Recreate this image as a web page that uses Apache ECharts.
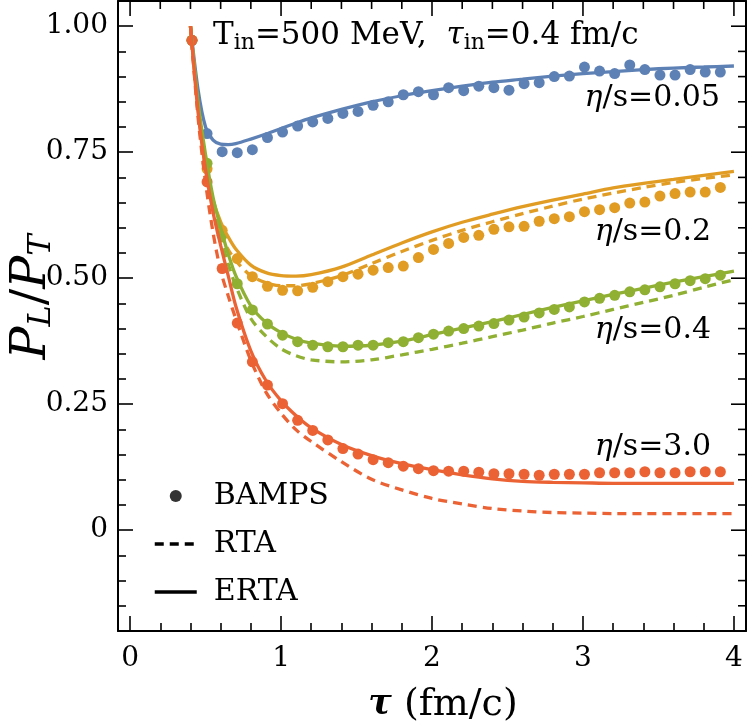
<!DOCTYPE html>
<html>
<head>
<meta charset="utf-8">
<script src="https://cdn.jsdelivr.net/npm/echarts@6/dist/echarts.min.js"></script>
<style>
  html, body { margin: 0; padding: 0; background: #fff; }
  #main { width: 749px; height: 721px; }
</style>
</head>
<body>
<div id="main"></div>
<script>
const FONT = 'DejaVu Serif'

// axis ticks
const xMajor = [0, 1, 2, 3, 4]
const xMinor = [0.2, 0.4, 0.6, 0.8, 1.2, 1.4, 1.6, 1.8, 2.2, 2.4, 2.6, 2.8, 3.2, 3.4, 3.6, 3.8]
const xTickLabels = ['0', '1', '2', '3', '4']
const yMajor = [0, 0.25, 0.5, 0.75, 1]
const yMinor = [-0.15, -0.1, -0.05, 0.05, 0.1, 0.15, 0.2, 0.3, 0.35, 0.4, 0.45, 0.55, 0.6, 0.65, 0.7, 0.8, 0.85, 0.9, 0.95]
const yTickLabels = ['0', '0.25', '0.50', '0.75', '1.00']

// tau grid of the RTA / ERTA curves
const tauLine = [0.4, 0.45, 0.5, 0.55, 0.6, 0.65, 0.7, 0.8, 0.9, 1.0, 1.1, 1.2, 1.4, 1.6, 1.8, 2.0, 2.2, 2.4, 2.6, 2.8, 3.0, 3.2, 3.4, 3.6, 3.8, 4.0]

const ertaEta005 = [1.0, 0.875, 0.8, 0.774, 0.766, 0.765, 0.767, 0.776, 0.786, 0.797, 0.808, 0.818, 0.835, 0.85, 0.862, 0.872, 0.881, 0.889, 0.895, 0.901, 0.906, 0.91, 0.914, 0.917, 0.919, 0.921]
const ertaEta02 = [1.0, 0.84, 0.72, 0.655, 0.612, 0.582, 0.558, 0.526, 0.511, 0.505, 0.504, 0.507, 0.522, 0.546, 0.57, 0.592, 0.611, 0.627, 0.642, 0.655, 0.667, 0.679, 0.688, 0.696, 0.704, 0.712]
const rtaEta02 = [1.0, 0.83, 0.705, 0.635, 0.588, 0.557, 0.535, 0.505, 0.491, 0.485, 0.485, 0.489, 0.505, 0.529, 0.553, 0.575, 0.595, 0.612, 0.628, 0.643, 0.657, 0.669, 0.68, 0.69, 0.698, 0.705]
const ertaEta04 = [1.0, 0.85, 0.745, 0.66, 0.6, 0.548, 0.505, 0.445, 0.412, 0.392, 0.379, 0.371, 0.365, 0.367, 0.375, 0.388, 0.401, 0.414, 0.428, 0.442, 0.455, 0.468, 0.48, 0.492, 0.503, 0.514]
const rtaEta04 = [1.0, 0.84, 0.725, 0.64, 0.58, 0.528, 0.485, 0.42, 0.385, 0.36, 0.346, 0.338, 0.334, 0.338, 0.348, 0.359, 0.371, 0.384, 0.397, 0.411, 0.424, 0.438, 0.452, 0.466, 0.482, 0.497]
const ertaEta30 = [1.0, 0.83, 0.715, 0.63, 0.565, 0.505, 0.445, 0.356, 0.297, 0.257, 0.227, 0.203, 0.17, 0.148, 0.132, 0.12, 0.11, 0.102, 0.097, 0.095, 0.094, 0.093, 0.093, 0.093, 0.093, 0.093]
const rtaEta30 = [1.0, 0.82, 0.69, 0.59, 0.515, 0.465, 0.42, 0.337, 0.274, 0.232, 0.199, 0.176, 0.136, 0.101, 0.08, 0.063, 0.052, 0.043, 0.038, 0.035, 0.034, 0.033, 0.033, 0.033, 0.033, 0.033]

// BAMPS points
const tauDots = [0.41, 0.51, 0.61, 0.71, 0.81, 0.91, 1.01, 1.11, 1.21, 1.31, 1.41, 1.51, 1.61, 1.71, 1.81, 1.91, 2.01, 2.11, 2.21, 2.31, 2.41, 2.51, 2.61, 2.71, 2.81, 2.91, 3.01, 3.11, 3.21, 3.31, 3.41, 3.51, 3.61, 3.71, 3.81, 3.91]
const bampsEta005 = [0.972, 0.787, 0.751, 0.749, 0.755, 0.779, 0.79, 0.802, 0.81, 0.817, 0.827, 0.831, 0.843, 0.85, 0.864, 0.87, 0.864, 0.878, 0.872, 0.881, 0.878, 0.873, 0.886, 0.888, 0.9, 0.901, 0.919, 0.911, 0.906, 0.923, 0.914, 0.903, 0.903, 0.914, 0.909, 0.909]
const bampsEta02 = [0.972, 0.717, 0.595, 0.539, 0.503, 0.484, 0.476, 0.475, 0.482, 0.493, 0.503, 0.508, 0.516, 0.521, 0.524, 0.541, 0.557, 0.569, 0.581, 0.585, 0.597, 0.602, 0.603, 0.613, 0.618, 0.622, 0.632, 0.636, 0.64, 0.649, 0.651, 0.663, 0.668, 0.671, 0.671, 0.68]
const bampsEta04 = [0.972, 0.728, 0.585, 0.489, 0.437, 0.409, 0.387, 0.374, 0.367, 0.364, 0.364, 0.367, 0.367, 0.372, 0.374, 0.382, 0.389, 0.395, 0.4, 0.405, 0.41, 0.417, 0.423, 0.431, 0.438, 0.443, 0.453, 0.46, 0.466, 0.473, 0.477, 0.483, 0.489, 0.495, 0.499, 0.506]
const bampsEta30 = [0.972, 0.691, 0.519, 0.411, 0.334, 0.288, 0.251, 0.218, 0.198, 0.179, 0.162, 0.151, 0.14, 0.134, 0.127, 0.122, 0.118, 0.117, 0.117, 0.115, 0.112, 0.112, 0.111, 0.109, 0.111, 0.111, 0.111, 0.114, 0.114, 0.114, 0.116, 0.114, 0.114, 0.116, 0.116, 0.116]

const colors = { c005: '#5E81B5', c02: '#E19C24', c04: '#8FB032', c30: '#EB6235' }

const X_MIN = -0.08
const X_MAX = 4.08
const Y_MIN = -0.2
const Y_MAX = 1.05

const pairs = (xs, ys) => xs.map((x, i) => [x, ys[i]])

const lineSeries = (name, xs, ys, color, dashed) => ({
  name: name,
  type: 'line',
  data: pairs(xs, ys),
  symbol: 'none',
  smooth: 0.3,
  silent: true,
  lineStyle: { color: color, width: 3.3, type: dashed ? [9, 6] : 'solid' }
})

const dotSeries = (name, xs, ys, color) => ({
  name: name,
  type: 'scatter',
  data: pairs(xs, ys),
  symbol: 'circle',
  symbolSize: 11,
  silent: true,
  itemStyle: { color: color, opacity: 1 }
})

// ticks of the top and right frame edges: [value, kind]
// kind 0/1 = top major/minor at tau = value, kind 2/3 = right major/minor at P_L/P_T = value
const frameTicks = [
  ...xMajor.map((v) => [v, 0]),
  ...xMinor.map((v) => [v, 1]),
  ...yMajor.map((v) => [v, 2]),
  ...yMinor.map((v) => [v, 3])
]

const renderFrameTick = (params, api) => {
  const v = api.value(0)
  const kind = api.value(1)
  const len = kind % 2 === 0 ? 15 : 8
  const style = { stroke: '#000', lineWidth: 1.6 }
  if (kind < 2) {
    const p = api.coord([v, Y_MAX])
    return { type: 'line', shape: { x1: p[0], y1: p[1], x2: p[0], y2: p[1] + len }, style: style }
  }
  const p = api.coord([X_MAX, v])
  return { type: 'line', shape: { x1: p[0], y1: p[1], x2: p[0] - len, y2: p[1] }, style: style }
}

const chart = echarts.init(document.getElementById('main'), null, { renderer: 'canvas' })

const baseX = { type: 'value', min: X_MIN, max: X_MAX, splitLine: { show: false }, axisLabel: { show: false } }
const baseY = { type: 'value', min: Y_MIN, max: Y_MAX, splitLine: { show: false }, axisLabel: { show: false } }
const tickLine = { color: '#000', width: 1.6 }
const frameLine = { show: true, onZero: false, lineStyle: { color: '#000', width: 2 } }
const noLine = { show: false, onZero: false }
const richLabel = (size) => ({
  i: { fontFamily: FONT, fontSize: size, fontStyle: 'italic', fill: '#000' },
  n: { fontFamily: FONT, fontSize: size, fill: '#000' }
})

const option = {
  backgroundColor: '#fff',
  animation: false,
  grid: { left: 118, right: 3, top: 1, bottom: 90, containLabel: false, outerBoundsMode: 'none' },
  xAxis: [
    {
      ...baseX,
      position: 'bottom',
      axisLine: frameLine,
      axisTick: { inside: true, length: 15, customValues: xMajor, lineStyle: tickLine },
      axisLabel: {
        show: true,
        customValues: xMajor,
        formatter: (v) => xTickLabels[xMajor.indexOf(Math.round(v * 100) / 100)] || '',
        margin: 14, color: '#000', fontFamily: FONT, fontSize: 28
      },
      name: '{t|τ}{n| (fm/c)}',
      nameLocation: 'middle',
      nameGap: 55,
      nameTextStyle: {
        padding: [0, 0, 0, 22],
        rich: {
          t: { fontFamily: FONT, fontSize: 35, fontStyle: 'italic', fontWeight: 'bold', color: '#000' },
          n: { fontFamily: FONT, fontSize: 38, color: '#000' }
        }
      }
    },
    { ...baseX, position: 'bottom', axisLine: noLine, axisTick: { inside: true, length: 8, customValues: xMinor, lineStyle: tickLine } },
    { ...baseX, position: 'top', axisLine: frameLine, axisTick: { show: false } }
  ],
  yAxis: [
    {
      ...baseY,
      position: 'left',
      axisLine: frameLine,
      axisTick: { inside: true, length: 15, customValues: yMajor, lineStyle: tickLine },
      axisLabel: {
        show: true,
        customValues: yMajor,
        formatter: (v) => yTickLabels[yMajor.indexOf(Math.round(v * 100) / 100)] || '',
        margin: 10, color: '#000', fontFamily: FONT, fontSize: 28
      }
    },
    { ...baseY, position: 'left', axisLine: noLine, axisTick: { inside: true, length: 8, customValues: yMinor, lineStyle: tickLine } },
    { ...baseY, position: 'right', axisLine: frameLine, axisTick: { show: false } }
  ],
  legend: {
    orient: 'vertical',
    left: 148,
    top: 476,
    itemWidth: 42,
    itemHeight: 12,
    itemGap: 18,
    selectedMode: false,
    textStyle: { fontFamily: FONT, fontSize: 30, color: '#000', lineHeight: 30, padding: [0, 0, 0, 12] },
    data: [
      { name: 'BAMPS', icon: 'circle' },
      { name: 'RTA', itemStyle: { opacity: 0 }, lineStyle: { width: 3.5 } },
      { name: 'ERTA', itemStyle: { opacity: 0 }, lineStyle: { width: 3.5 } }
    ]
  },
  graphic: [
    {
      type: 'text', x: 32, y: 297, rotation: Math.PI / 2,
      style: {
        text: '{i|P}{s|L}{n|/}{i|P}{s|T}',
        align: 'center',
        verticalAlign: 'middle',
        rich: {
          i: { fontFamily: FONT, fontSize: 49, fontStyle: 'italic', fill: '#000', lineHeight: 52 },
          n: { fontFamily: FONT, fontSize: 49, fill: '#000', lineHeight: 52 },
          s: { fontFamily: FONT, fontSize: 32, fontStyle: 'italic', fill: '#000', lineHeight: 32, padding: [20, 0, 0, 0] }
        }
      }
    },
    {
      type: 'text', left: 213, top: 17,
      style: {
        text: '{n|T}{s|in}{n|=500 MeV,  }{i|τ}{s|in}{n|=0.4 fm/c}',
        rich: {
          n: { fontFamily: FONT, fontSize: 31, fill: '#000', lineHeight: 36 },
          i: { fontFamily: FONT, fontSize: 31, fontStyle: 'italic', fill: '#000', lineHeight: 36 },
          s: { fontFamily: FONT, fontSize: 22, fill: '#000', lineHeight: 22, padding: [15, 0, 0, 0] }
        }
      }
    },
    { type: 'text', right: 29, top: 83, style: { text: '{i|η}{n|/s=0.05}', rich: richLabel(30) } },
    { type: 'text', right: 38, top: 217, style: { text: '{i|η}{n|/s=0.2}', rich: richLabel(30) } },
    { type: 'text', right: 38, top: 315, style: { text: '{i|η}{n|/s=0.4}', rich: richLabel(30) } },
    { type: 'text', right: 38, top: 432, style: { text: '{i|η}{n|/s=3.0}', rich: richLabel(30) } }
  ],
  series: [
    // legend-only entries
    { name: 'BAMPS', type: 'scatter', data: [], itemStyle: { color: '#000' } },
    { name: 'RTA', type: 'line', data: [], symbol: 'none', itemStyle: { color: '#000' }, lineStyle: { color: '#000', width: 3.5, type: [9, 6] } },
    { name: 'ERTA', type: 'line', data: [], symbol: 'none', itemStyle: { color: '#000' }, lineStyle: { color: '#000', width: 3.5 } },

    // top / right frame ticks
    { name: 'frameTicks', type: 'custom', data: frameTicks, renderItem: renderFrameTick, clip: false, silent: true, z: 1 },

    lineSeries('ERTA 0.05', tauLine, ertaEta005, colors.c005, false),
    dotSeries('BAMPS 0.05', tauDots, bampsEta005, colors.c005),

    lineSeries('RTA 0.2', tauLine, rtaEta02, colors.c02, true),
    lineSeries('ERTA 0.2', tauLine, ertaEta02, colors.c02, false),
    dotSeries('BAMPS 0.2', tauDots, bampsEta02, colors.c02),

    lineSeries('RTA 0.4', tauLine, rtaEta04, colors.c04, true),
    lineSeries('ERTA 0.4', tauLine, ertaEta04, colors.c04, false),
    dotSeries('BAMPS 0.4', tauDots, bampsEta04, colors.c04),

    lineSeries('RTA 3.0', tauLine, rtaEta30, colors.c30, true),
    lineSeries('ERTA 3.0', tauLine, ertaEta30, colors.c30, false),
    dotSeries('BAMPS 3.0', tauDots, bampsEta30, colors.c30)
  ]
}

chart.setOption(option)
</script>
</body>
</html>
